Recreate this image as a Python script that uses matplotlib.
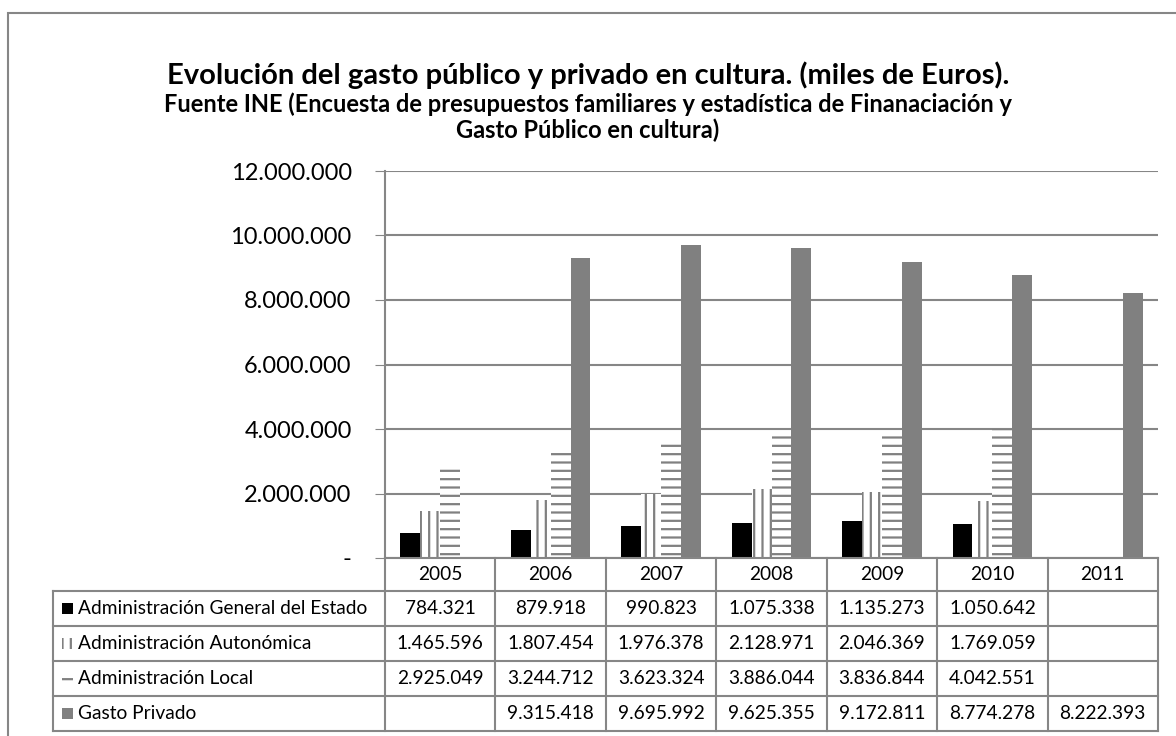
import matplotlib
matplotlib.use("Agg")
import matplotlib.pyplot as plt
import numpy as np
from matplotlib.patches import Rectangle
import matplotlib.transforms as mtransforms

plt.rcParams['font.family'] = ['Lato', 'DejaVu Sans']
plt.rcParams['hatch.color'] = '#808080'
plt.rcParams['hatch.linewidth'] = 1.6

years = ['2005', '2006', '2007', '2008', '2009', '2010', '2011']
series_names = ['Administración General del Estado', 'Administración Autonómica',
                'Administración Local', 'Gasto Privado']
age = [784321, 879918, 990823, 1075338, 1135273, 1050642, None]
aut = [1465596, 1807454, 1976378, 2128971, 2046369, 1769059, None]
loc = [2925049, 3244712, 3623324, 3886044, 3836844, 4042551, None]
priv = [None, 9315418, 9695992, 9625355, 9172811, 8774278, 8222393]
yticks = [0, 2000000, 4000000, 6000000, 8000000, 10000000, 12000000]

series = [age, aut, loc, priv]
styles = [dict(facecolor='black', hatch=None, edgecolor='black'),
          dict(facecolor='white', hatch='||', edgecolor='#808080'),
          dict(facecolor='white', hatch='--', edgecolor='#808080'),
          dict(facecolor='#808080', hatch=None, edgecolor='#808080')]

def fmt(v):
    if v is None:
        return ''
    return f'{v:,}'.replace(',', '.')

W, H = 1176, 736
fig = plt.figure(figsize=(W / 100, H / 100), dpi=100)
fig.patch.set_facecolor('white')

# outer border
fig.add_artist(Rectangle((8 / W, -0.1), 1.2, (736 - 13) / H + 0.1, transform=fig.transFigure,
                         fill=False, edgecolor='#868686', linewidth=1.5))

ax_l, ax_r, ax_t, ax_b = 385, 1158, 171, 558
ax = fig.add_axes([ax_l / W, (H - ax_b) / H, (ax_r - ax_l) / W, (ax_b - ax_t) / H])
ax.set_xlim(-0.5, len(years) - 0.5)
ax.set_ylim(0, 12000000)
ax.set_yticks(yticks)
ax.set_yticklabels([fmt(v) if v else '-' for v in yticks], fontsize=17)
ax.tick_params(axis='y', length=7, color='#868686', pad=17)
ax.tick_params(axis='x', length=0, labelbottom=False)
for s in ['top', 'right', 'bottom']:
    ax.spines[s].set_visible(False)
ax.spines['left'].set_color('#868686')
ax.spines['left'].set_linewidth(1.5)
ax.yaxis.grid(True, color='#868686', linewidth=1.5)
ax.set_axisbelow(True)

x = np.arange(len(years))
bw = 0.18
for i, (vals, st) in enumerate(zip(series, styles)):
    off = (i - 1.5) * bw
    h = [v if v is not None else 0 for v in vals]
    ax.bar(x + off, h, width=bw, linewidth=0, **st)

# table
trans = mtransforms.blended_transform_factory(ax.transData, fig.transFigure)
ftrans = fig.transFigure
row_edges = [558, 591, 626, 661, 696, 731]
left_edge = 53
lc = '#868686'
lw = 1.5
def fy(py):
    return (H - py) / H
for k, py in enumerate(row_edges):
    x0 = ax_l if k == 0 else left_edge
    fig.add_artist(plt.Line2D([x0 / W, ax_r / W], [fy(py), fy(py)], transform=ftrans,
                              color=lc, linewidth=lw))
for j in range(len(years) + 1):
    xb = j - 0.5
    ax.plot([xb, xb], [fy(row_edges[0]), fy(row_edges[-1])], transform=trans,
            color=lc, linewidth=lw, clip_on=False)
fig.add_artist(plt.Line2D([left_edge / W, left_edge / W], [fy(row_edges[1]), fy(row_edges[-1])],
                          transform=ftrans, color=lc, linewidth=lw))

tfs = 13.8
for j, yr in enumerate(years):
    ax.text(j, fy((row_edges[0] + row_edges[1]) / 2), yr, transform=trans,
            ha='center', va='center', fontsize=tfs, clip_on=False)
for r, (name, vals, st) in enumerate(zip(series_names, series, styles)):
    yc = fy((row_edges[r + 1] + row_edges[r + 2]) / 2)
    kx, ks = 62 / W, 11
    fig.add_artist(Rectangle((kx, yc - ks / 2 / H), ks / W, ks / H, transform=ftrans,
                             facecolor=st['facecolor'], edgecolor=st['edgecolor'],
                             hatch=st['hatch'], linewidth=0))
    fig.text(78 / W, yc, name, ha='left', va='center', fontsize=tfs)
    for j, v in enumerate(vals):
        ax.text(j, yc, fmt(v), transform=trans, ha='center', va='center',
                fontsize=tfs, clip_on=False)

fig.text(588 / W, fy(75), 'Evolución del gasto público y privado en cultura. (miles de Euros).',
         ha='center', va='center', fontsize=21, fontweight='bold')
fig.text(588 / W, fy(104), 'Fuente INE (Encuesta de presupuestos familiares y estadística de Finanaciación y',
         ha='center', va='center', fontsize=17, fontweight='bold')
fig.text(588 / W, fy(130), 'Gasto Público en cultura)',
         ha='center', va='center', fontsize=17, fontweight='bold')

fig.savefig('out.png', dpi=100)
